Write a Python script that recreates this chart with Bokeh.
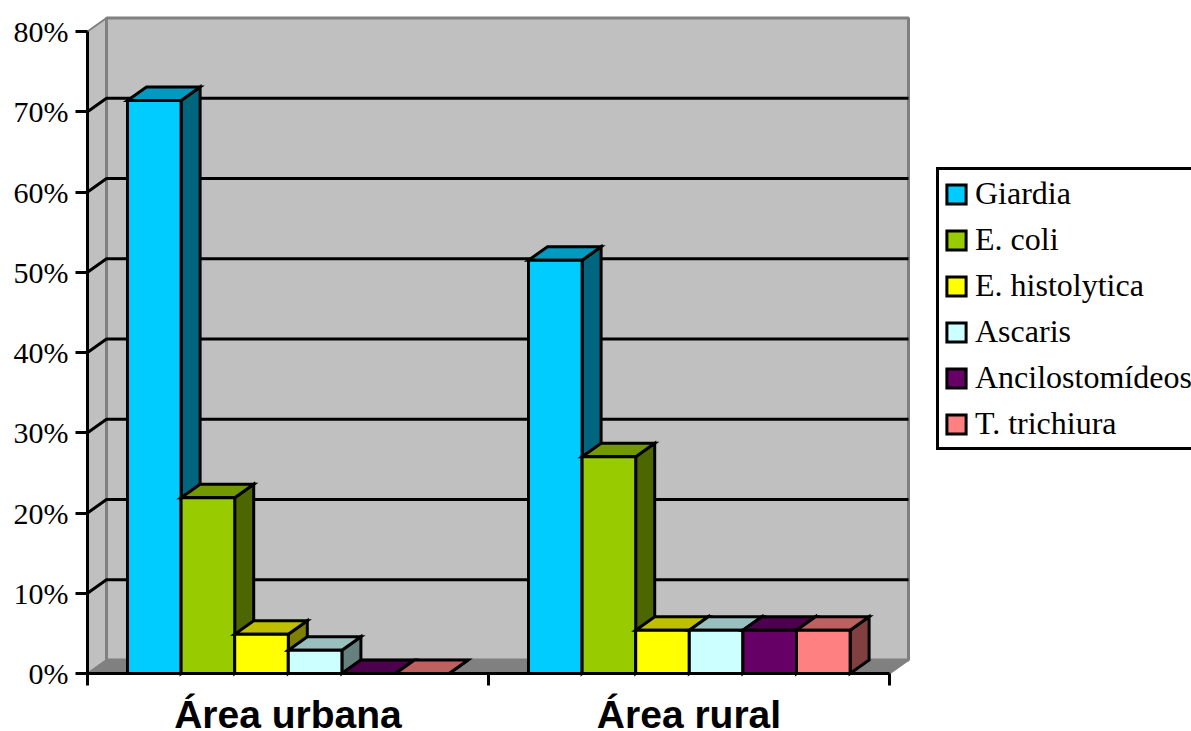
from bokeh.embed import file_html
from bokeh.models import (ColumnDataSource, FixedTicker, Legend, LegendItem,
                          LinearAxis, NumeralTickFormatter, Range1d)
from bokeh.plotting import figure
from bokeh.resources import INLINE

categories = ["Área urbana", "Área rural"]
species = ["Giardia", "E. coli", "E. histolytica", "Ascaris", "Ancilostomídeos", "T. trichiura"]
giardia = [0.714, 0.515]
e_coli = [0.219, 0.270]
e_histolytica = [0.049, 0.054]
ascaris = [0.029, 0.054]
ancilostomideos = [0.0, 0.054]
t_trichiura = [0.0, 0.054]
series = [giardia, e_coli, e_histolytica, ascaris, ancilostomideos, t_trichiura]

front_colors = ["#00CCFF", "#99CC00", "#FFFF00", "#CCFFFF", "#660066", "#FF8080"]
top_colors = ["#0099BF", "#739900", "#BFBF00", "#99BFBF", "#4D004D", "#BF6060"]
side_colors = ["#006680", "#4D6600", "#808000", "#668080", "#330033", "#804040"]
y_ticks = [i / 10 for i in range(9)]

W, H = 1191, 731
X0, X1, Y0, Y80 = 87, 889, 673, 31
ux = 2 / (X1 - X0)           # categories per pixel
uy = 0.8 / (Y0 - Y80)        # share per pixel
DX, DY = 19 * ux, 13.5 * uy  # oblique depth of the 3D box
GROUP_PAD, BAR_W = 40 * ux, 53.6 * ux
LW = 3

p = figure(width=W, height=H, output_backend="svg", toolbar_location=None,
           x_axis_type=None, y_axis_type=None, min_border=0,
           x_range=Range1d(-X0 * ux, (W - X0) * ux),
           y_range=Range1d(-(H - Y0) * uy, Y0 * uy))
p.grid.visible = False
p.outline_line_color = None
p.background_fill_color = "white"

n = len(categories)
WALL_GRAY, EDGE_GRAY = "#C0C0C0", "#808080"
# Floor, side wall and back wall of the box
p.patch([0, n, n + DX, DX], [0, 0, DY, DY], fill_color=EDGE_GRAY, line_color=EDGE_GRAY, line_width=2)
p.patch([0, DX, DX, 0], [0, DY, 0.8 + DY, 0.8], fill_color=WALL_GRAY, line_color=EDGE_GRAY, line_width=2)
p.quad(left=[DX], right=[n + DX], bottom=[DY], top=[0.8 + DY],
       fill_color=WALL_GRAY, line_color=EDGE_GRAY, line_width=3)

# Gridlines run across the side wall, then along the back wall
grid_vals = y_ticks[1:-1]
p.multi_line([[0, DX, n + DX] for _ in grid_vals],
             [[v, v + DY, v + DY] for v in grid_vals],
             line_color="black", line_width=LW)

legend_items = []
for s, (name, vals) in enumerate(zip(species, series)):
    lefts = [c + GROUP_PAD + s * BAR_W for c in range(n)]
    rights = [l + BAR_W for l in lefts]
    style = dict(line_color="black", line_width=LW, line_join="miter")
    p.patches([[r, r + DX, r + DX, r] for r in rights],
              [[0, DY, v + DY, v] for v in vals],
              fill_color=side_colors[s], **style)
    p.patches([[l, r, r + DX, l + DX] for l, r in zip(lefts, rights)],
              [[v, v, v + DY, v + DY] for v in vals],
              fill_color=top_colors[s], **style)
    src = ColumnDataSource(dict(left=lefts, right=rights, top=vals, bottom=[0] * n))
    bars = p.quad(left="left", right="right", top="top", bottom="bottom", source=src,
                  fill_color=front_colors[s], **style)
    legend_items.append(LegendItem(label=name, renderers=[bars]))

# Percent axis sits on the front-left edge of the box
y_axis = LinearAxis(ticker=FixedTicker(ticks=y_ticks),
                    formatter=NumeralTickFormatter(format="0%"),
                    fixed_location=0, bounds=(0, 0.8),
                    axis_line_color="black", axis_line_width=LW,
                    major_tick_line_color="black", major_tick_line_width=LW,
                    major_tick_in=0, major_tick_out=12, minor_tick_line_color=None,
                    major_label_standoff=7, major_label_text_color="black",
                    major_label_text_font="Liberation Serif",
                    major_label_text_font_size="30px")
p.add_layout(y_axis, "left")

# Category names on major ticks at group centres, group boundaries on minor ticks
label_ticks = [c + 0.5 for c in range(n)]
x_axis = LinearAxis(ticker=FixedTicker(ticks=label_ticks, minor_ticks=list(range(n + 1))),
                    major_label_overrides=dict(zip(label_ticks, categories)),
                    fixed_location=0, bounds=(0, n),
                    axis_line_color="black", axis_line_width=LW,
                    major_tick_line_color=None, major_tick_in=0, major_tick_out=12,
                    minor_tick_line_color="black", minor_tick_line_width=LW,
                    minor_tick_in=0, minor_tick_out=12,
                    major_label_standoff=7, major_label_text_color="black",
                    major_label_text_font="Liberation Sans",
                    major_label_text_font_style="bold",
                    major_label_text_font_size="39px")
p.add_layout(x_axis, "below")

legend = Legend(items=legend_items, location=(936, H - 450), orientation="vertical",
                label_text_font="Liberation Serif", label_text_font_size="32px",
                label_text_color="black", label_standoff=7, label_height=24,
                glyph_width=24, glyph_height=24, spacing=9,
                padding=5, margin=0, background_fill_color="white", background_fill_alpha=1,
                border_line_color="black", border_line_width=3, border_line_alpha=1)
p.add_layout(legend, "center")

open("out.html", "w").write(file_html(p, INLINE))
